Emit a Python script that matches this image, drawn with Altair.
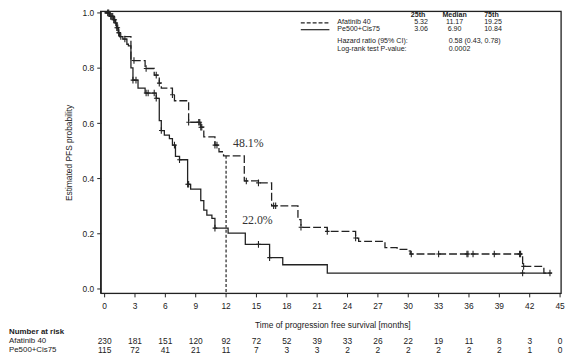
import altair as alt
import pandas as pd

# ---- data ----
afa_t = [0, 0.5, 0.9, 1.05, 1.2, 1.35, 1.5, 2.6, 4.0, 4.9, 5.4, 5.6, 6.7, 6.9, 8.3, 9.5, 9.8,
         10.9, 11.3, 11.75, 13.8, 15.2, 16.5, 19.1, 19.4, 22.0, 24.8, 25.1, 27.7, 28.9, 30.1,
         30.2, 41.3, 43.4, 44.2]
afa_s = [1.0, 0.987, 0.975, 0.963, 0.946, 0.928, 0.914, 0.827, 0.798, 0.774, 0.745, 0.727,
         0.703, 0.681, 0.603, 0.585, 0.55, 0.52, 0.496, 0.481, 0.39, 0.383, 0.30, 0.25, 0.222,
         0.207, 0.183, 0.171, 0.148, 0.142, 0.136, 0.125, 0.08, 0.056, 0.056]
afa_cens = [0.3, 0.6, 0.8, 1.0, 1.1, 1.3, 1.4, 1.6, 2.9, 4.1, 5.1, 5.4, 6.7, 8.3, 9.3, 9.4,
            9.5, 9.6, 10.9, 11.1, 14.0, 15.2, 16.7, 16.9, 19.4, 22.0, 24.8, 30.3, 33.0, 35.8,
            35.9, 36.4, 38.5, 41.0, 41.1, 41.4, 44.0]

pe_t = [0, 0.5, 0.9, 1.05, 1.2, 1.35, 1.5, 1.8, 2.2, 2.35, 2.6, 2.8, 3.3, 4.0, 5.1, 5.4, 5.6,
        5.9, 6.4, 6.7, 7.0, 7.4, 8.2, 8.5, 9.5, 9.8, 10.1, 10.6, 10.9, 12.2, 13.9, 16.3, 17.6,
        22.0, 44.0]
pe_s = [1.0, 0.987, 0.975, 0.963, 0.946, 0.928, 0.914, 0.905, 0.886, 0.88, 0.80, 0.756, 0.727,
        0.709, 0.69, 0.609, 0.573, 0.556, 0.544, 0.52, 0.479, 0.467, 0.378, 0.36, 0.319, 0.284,
        0.266, 0.254, 0.219, 0.201, 0.16, 0.112, 0.086, 0.056, 0.056]
pe_cens = [0.4, 0.7, 0.9, 1.2, 1.4, 2.0, 2.8, 3.1, 4.1, 4.3, 4.9, 5.1, 5.6, 6.9, 7.4, 8.2,
           8.3, 10.9, 15.2, 16.3, 41.3]

tick_months = list(range(0, 46, 3))
prob_ticks = [0.0, 0.2, 0.4, 0.6, 0.8, 1.0]
risk_afa = [230, 181, 151, 120, 92, 72, 52, 39, 33, 26, 22, 19, 11, 8, 3, 0]
risk_pe = [115, 72, 41, 21, 11, 7, 3, 3, 2, 2, 2, 2, 2, 2, 1, 0]

arm_names = ["Afatinib 40", "Pe500+Cis75"]
q25 = ["5.32", "3.06"]
qmed = ["11.17", "6.90"]
q75 = ["19.25", "10.84"]
hr_text = "0.58 (0.43, 0.78)"
p_text = "0.0002"
pct_labels = ["48.1%", "22.0%"]
pct_x = [14.2, 15.1]
pct_y = [0.526, 0.248]
median_line_x = 12
median_line_y = 0.481

X_DOMAIN = [-0.39, 45.1]
Y_DOMAIN = [-0.018, 1.005]


def surv_at(ts, ss, t):
    v = ss[0]
    for ti, si in zip(ts, ss):
        if ti <= t:
            v = si
    return v


afa_df = pd.DataFrame({"t": afa_t, "s": afa_s})
pe_df = pd.DataFrame({"t": pe_t, "s": pe_s})
afa_c = pd.DataFrame({"t": afa_cens, "s": [surv_at(afa_t, afa_s, c) for c in afa_cens]})
pe_c = pd.DataFrame({"t": pe_cens, "s": [surv_at(pe_t, pe_s, c) for c in pe_cens]})

W, H = 467, 286
FONT = "Liberation Sans"
INK = "#222222"

xs = alt.Scale(domain=X_DOMAIN, nice=False, zero=False)
ys = alt.Scale(domain=Y_DOMAIN, nice=False, zero=False)

y_axis = alt.Axis(values=prob_ticks, format=".1f",
                  title="Estimated PFS probability", grid=False, domain=True,
                  domainColor=INK, domainWidth=1.2, tickSize=4,
                  labelOverlap=False, labelFlush=False,
                  labelPadding=3, titlePadding=9, labelFontSize=8.5, titleFontSize=8.5,
                  labelFont=FONT, titleFont=FONT, titleFontWeight="normal",
                  labelColor=INK, titleColor=INK, tickColor=INK)

CROSS = "M0,-1L0,1M-0.7,0L0.7,0"
one = pd.DataFrame({"a": [0]})


def rule(x, x2, y, y2, **kw):
    kw.setdefault("color", INK)
    kw.setdefault("strokeWidth", 1.2)
    return alt.Chart(one).mark_rule(**kw).encode(
        x=alt.value(x), x2=alt.value(x2), y=alt.value(y), y2=alt.value(y2))


# plot frame as one closed path through the scales (corners of the scale domains)
box = pd.DataFrame({
    "bx": [X_DOMAIN[0], X_DOMAIN[1], X_DOMAIN[1], X_DOMAIN[0], X_DOMAIN[0]],
    "by": [Y_DOMAIN[0], Y_DOMAIN[0], Y_DOMAIN[1], Y_DOMAIN[1], Y_DOMAIN[0]],
    "k": [0, 1, 2, 3, 4],
})
frame = alt.Chart(box).mark_line(color=INK, strokeWidth=1.3, clip=False).encode(
    x=alt.X("bx:Q", scale=xs, axis=None), y=alt.Y("by:Q", scale=ys, axis=y_axis),
    order="k:Q")

afa_line = alt.Chart(afa_df).mark_line(interpolate="step-after", color=INK, strokeWidth=1.3,
                                       strokeDash=[8, 3]).encode(
    x=alt.X("t:Q", scale=xs, axis=None), y=alt.Y("s:Q", scale=ys, axis=y_axis))
pe_line = alt.Chart(pe_df).mark_line(interpolate="step-after", color=INK, strokeWidth=1.3).encode(
    x=alt.X("t:Q", scale=xs, axis=None), y=alt.Y("s:Q", scale=ys, axis=y_axis))
afa_pts = alt.Chart(afa_c).mark_point(shape=CROSS, size=45, filled=False, color=INK,
                                      strokeWidth=1.1, opacity=1).encode(
    x=alt.X("t:Q", scale=xs, axis=None), y=alt.Y("s:Q", scale=ys, axis=y_axis))
pe_pts = alt.Chart(pe_c).mark_point(shape=CROSS, size=45, filled=False, color=INK,
                                    strokeWidth=1.1, opacity=1).encode(
    x=alt.X("t:Q", scale=xs, axis=None), y=alt.Y("s:Q", scale=ys, axis=y_axis))

vline = alt.Chart(pd.DataFrame({"t": [median_line_x], "s": [median_line_y]})).mark_rule(
    color=INK, strokeWidth=1.2, strokeDash=[3, 2]).encode(
    x=alt.X("t:Q", scale=xs, axis=None), y=alt.Y("s:Q", scale=ys, axis=y_axis), y2=alt.value(H))

pct = alt.Chart(pd.DataFrame({"t": pct_x, "s": pct_y, "lab": pct_labels})).mark_text(
    font="Liberation Serif", fontSize=12, color="#333333", align="center", baseline="middle").encode(
    x=alt.X("t:Q", scale=xs, axis=None), y=alt.Y("s:Q", scale=ys, axis=y_axis), text="lab:N")

# x axis drawn by hand (ticks + labels through the x scale)
xt_df = pd.DataFrame({"t": tick_months, "lab": [str(m) for m in tick_months],
                      "a": risk_afa, "p": risk_pe})
x_ticks = alt.Chart(xt_df).mark_rule(color=INK, strokeWidth=1).encode(
    x=alt.X("t:Q", scale=xs, axis=None), y=alt.value(H), y2=alt.value(H + 4))
x_labels = alt.Chart(xt_df).mark_text(font=FONT, fontSize=8.5, color=INK, baseline="middle").encode(
    x=alt.X("t:Q", scale=xs, axis=None), y=alt.value(H + 13), text="lab:N")


def txt(text, x, y, align="left", bold=False, size=7.2):
    return alt.Chart(pd.DataFrame({"lab": [text]})).mark_text(
        font=FONT, fontSize=size, color=INK, align=align, baseline="middle",
        fontWeight="bold" if bold else "normal").encode(
        x=alt.value(x), y=alt.value(y), text="lab:N")


x_title = txt("Time of progression free survival [months]", W / 2 + 2, H + 32, "center", size=8.5)

# legend / statistics table (pixel offsets from plot area origin)
leg = [rule(203, 232, 11.5, 11.5, strokeDash=[4, 2]), rule(203, 232, 18.5, 18.5)]
table = [
    txt("25th", 322, 4, "center", True),
    txt("Median", 359, 4, "center", True),
    txt("75th", 389, 4, "left", True),
    txt(arm_names[0], 240, 11),
    txt(arm_names[1], 240, 18),
    txt(q25[0], 325, 11, "center"),
    txt(q25[1], 325, 18, "center"),
    txt(qmed[0], 359, 11, "center"),
    txt(qmed[1], 359, 18, "center"),
    txt(q75[0], 389, 11),
    txt(q75[1], 389, 18),
    txt("Hazard ratio (95% CI):", 240, 30),
    txt(hr_text, 353, 30),
    txt("Log-rank test P-value:", 240, 38),
    txt(p_text, 353, 38),
]

# number at risk
risk_a = alt.Chart(xt_df).mark_text(font=FONT, fontSize=8.5, color=INK, baseline="middle").encode(
    x=alt.X("t:Q", scale=xs, axis=None), y=alt.value(334), text="a:Q")
risk_p = alt.Chart(xt_df).mark_text(font=FONT, fontSize=8.5, color=INK, baseline="middle").encode(
    x=alt.X("t:Q", scale=xs, axis=None), y=alt.value(343), text="p:Q")
risk_labels = [
    txt("Number at risk", -93, 325.5, bold=True, size=8),
    txt(arm_names[0], -93, 334, size=8),
    txt(arm_names[1], -93, 343, size=8),
]

chart = alt.layer(afa_line, pe_line, afa_pts, pe_pts, vline, pct, frame, x_ticks, x_labels,
                  x_title, *leg, *table, risk_a, risk_p, *risk_labels).properties(
    width=W, height=H,
    autosize=alt.AutoSizeParams(type="none"),
    padding={"left": 94, "top": 1, "right": 6, "bottom": 63},
).configure_view(stroke=None).configure(background="white")

chart.save("out.html", embed_options={"renderer": "svg", "actions": False})
